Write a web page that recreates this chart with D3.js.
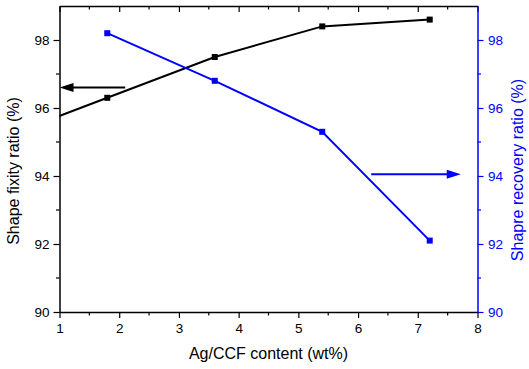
<!DOCTYPE html>
<html>
<head>
<meta charset="utf-8">
<script src="https://cdn.jsdelivr.net/npm/d3@7"></script>
<style>
  body { margin: 0; background: #fff; }
  svg { font-family: Arial, "Liberation Sans", sans-serif; }
</style>
</head>
<body>
<div id="chart"></div>
<script>
// content (wt%) and the two measured ratios
const fixityContent = [0, 1.8, 3.6, 5.4, 7.2];
const fixityRatio = [95.1, 96.3, 97.5, 98.4, 98.6];
const recoveryContent = [1.8, 3.6, 5.4, 7.2];
const recoveryRatio = [98.2, 96.8, 95.3, 92.1];
const xTicks = [1, 2, 3, 4, 5, 6, 7, 8];
const yTicks = [90, 92, 94, 96, 98];

const width = 529, height = 369;
const margin = { top: 6, right: 51.5, bottom: 57, left: 59.5 };
const blue = '#0000ff';

const svg = d3.select('#chart').append('svg')
    .attr('width', width)
    .attr('height', height);

const x = d3.scaleLinear().domain([1, 8]).range([margin.left, width - margin.right]);
const yL = d3.scaleLinear().domain([90, 99]).range([height - margin.bottom, margin.top]);
const yR = d3.scaleLinear().domain([90, 99]).range([height - margin.bottom, margin.top]);

svg.append('defs').append('clipPath').attr('id', 'plot')
    .append('rect')
    .attr('x', margin.left).attr('y', margin.top)
    .attr('width', x(8) - x(1)).attr('height', yL(90) - yL(99));

function styleAxis(g, color) {
    g.selectAll('path').attr('stroke', color).attr('stroke-width', 1.5);
    g.selectAll('line').attr('stroke', color).attr('stroke-width', 1.2);
    g.selectAll('text').attr('fill', color).style('font-size', '13.5px');
}

const minorX = d3.range(1.5, 8, 1);
const minorY = [91, 93, 95, 97];

// bottom axis
const bottomAxis = svg.append('g').attr('transform', `translate(0,${yL(90)})`)
    .call(d3.axisBottom(x).tickValues(xTicks).tickFormat(d3.format('d')).tickSize(6).tickSizeOuter(0).tickPadding(5));
styleAxis(bottomAxis, '#000');
bottomAxis.selectAll('.minor').data(minorX).enter().append('line')
    .attr('x1', d => x(d)).attr('x2', d => x(d)).attr('y1', 0).attr('y2', 3.5)
    .attr('stroke', '#000').attr('stroke-width', 1.2);

// top axis (mirror, ticks inside)
const topAxis = svg.append('g').attr('transform', `translate(0,${margin.top})`)
    .call(d3.axisBottom(x).tickValues(xTicks).tickFormat('').tickSize(6).tickSizeOuter(0));
styleAxis(topAxis, '#000');
topAxis.selectAll('.minor').data(minorX).enter().append('line')
    .attr('x1', d => x(d)).attr('x2', d => x(d)).attr('y1', 0).attr('y2', 3.5)
    .attr('stroke', '#000').attr('stroke-width', 1.2);

// left axis
const leftAxis = svg.append('g').attr('transform', `translate(${margin.left},0)`)
    .call(d3.axisLeft(yL).tickValues(yTicks).tickSize(6).tickSizeOuter(0).tickPadding(4));
styleAxis(leftAxis, '#000');
leftAxis.selectAll('.minor').data(minorY).enter().append('line')
    .attr('y1', d => yL(d)).attr('y2', d => yL(d)).attr('x1', 0).attr('x2', -3.5)
    .attr('stroke', '#000').attr('stroke-width', 1.2);

// right axis
const rightAxis = svg.append('g').attr('transform', `translate(${width - margin.right},0)`)
    .call(d3.axisRight(yR).tickValues(yTicks).tickSize(6).tickSizeOuter(0).tickPadding(4.5));
styleAxis(rightAxis, blue);
rightAxis.selectAll('.minor').data(minorY).enter().append('line')
    .attr('y1', d => yR(d)).attr('y2', d => yR(d)).attr('x1', 0).attr('x2', 3.5)
    .attr('stroke', blue).attr('stroke-width', 1.2);

// axis titles
svg.append('text')
    .attr('x', 268.5).attr('y', 359)
    .attr('text-anchor', 'middle').style('font-size', '16px')
    .text('Ag/CCF content (wt%)');
svg.append('text')
    .attr('transform', 'translate(19,171) rotate(-90)')
    .attr('text-anchor', 'middle').style('font-size', '16px')
    .text('Shape fixity ratio (%)');
svg.append('text')
    .attr('transform', 'translate(523,170) rotate(-90)')
    .attr('text-anchor', 'middle').style('font-size', '16px').attr('fill', blue)
    .text('Shapre recovery ratio (%)');

// series
const plot = svg.append('g').attr('clip-path', 'url(#plot)');
const fixity = fixityContent.map((c, i) => [c, fixityRatio[i]]);
const recovery = recoveryContent.map((c, i) => [c, recoveryRatio[i]]);

plot.append('path').datum(fixity)
    .attr('fill', 'none').attr('stroke', '#000').attr('stroke-width', 2)
    .attr('d', d3.line().x(d => x(d[0])).y(d => yL(d[1])));
plot.selectAll('.fm').data(fixity).enter().append('rect')
    .attr('x', d => x(d[0]) - 3).attr('y', d => yL(d[1]) - 3)
    .attr('width', 6).attr('height', 6).attr('fill', '#000');

plot.append('path').datum(recovery)
    .attr('fill', 'none').attr('stroke', blue).attr('stroke-width', 2)
    .attr('d', d3.line().x(d => x(d[0])).y(d => yR(d[1])));
plot.selectAll('.rm').data(recovery).enter().append('rect')
    .attr('x', d => x(d[0]) - 3).attr('y', d => yR(d[1]) - 3)
    .attr('width', 6).attr('height', 6).attr('fill', blue);

// arrows pointing to each axis
function arrow(x1, x2, yv, color) {
    const dir = Math.sign(x2 - x1);
    svg.append('line')
        .attr('x1', x1).attr('x2', x2 - dir * 10).attr('y1', yv).attr('y2', yv)
        .attr('stroke', color).attr('stroke-width', 2);
    svg.append('path')
        .attr('d', `M${x2},${yv} L${x2 - dir * 14},${yv - 4.5} L${x2 - dir * 14},${yv + 4.5} Z`)
        .attr('fill', color);
}
arrow(x(2.1), x(1), yL(96.6), '#000');
arrow(x(6.22), x(7.72), yR(94.05), blue);
</script>
</body>
</html>
